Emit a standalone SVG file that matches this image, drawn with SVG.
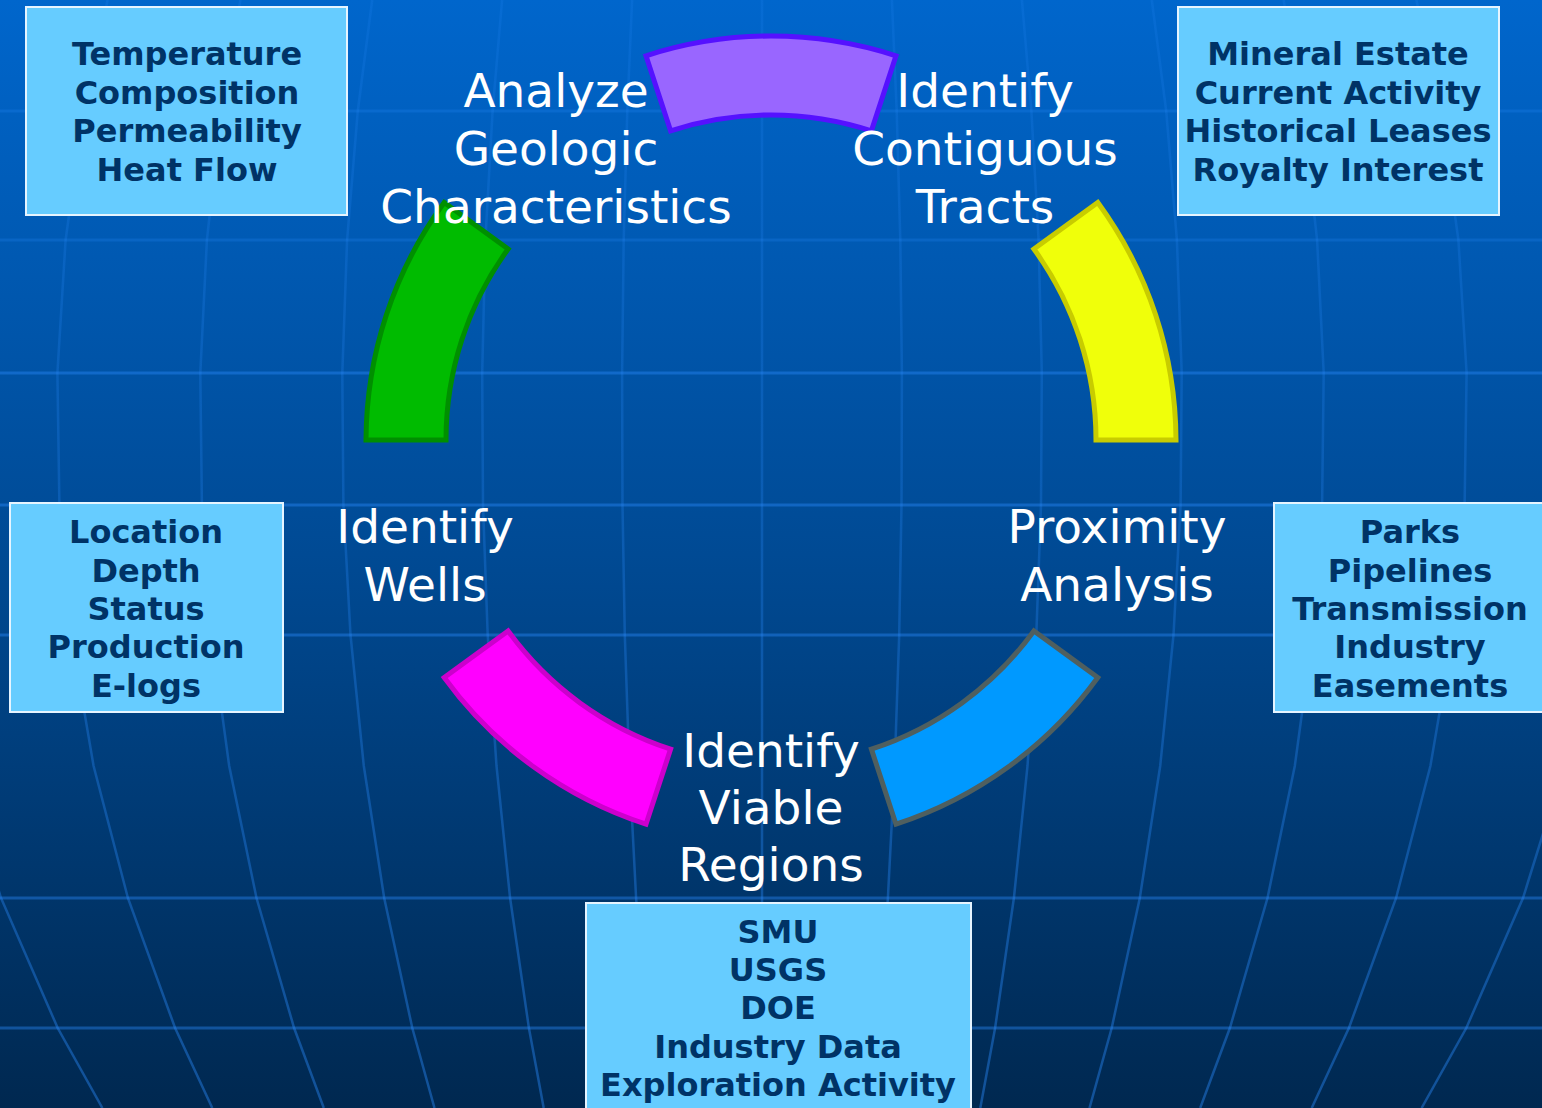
<svg xmlns="http://www.w3.org/2000/svg" width="1542" height="1108" viewBox="0 0 1542 1108">
  <defs>
    <linearGradient id="bg" x1="0" y1="0" x2="0" y2="1">
      <stop offset="0" stop-color="#0066cc"/>
      <stop offset="0.5" stop-color="#004a94"/>
      <stop offset="1" stop-color="#002850"/>
    </linearGradient>
    <linearGradient id="mg" gradientUnits="userSpaceOnUse" x1="0" y1="0" x2="0" y2="1108">
      <stop offset="0" stop-color="#2b8cff" stop-opacity="0.15"/>
      <stop offset="0.45" stop-color="#2b8cff" stop-opacity="0.25"/>
      <stop offset="1" stop-color="#2b8cff" stop-opacity="0.42"/>
    </linearGradient>
    <style>
      .grid { fill: none; }
      .h { stroke: #2b8cff; stroke-opacity: 0.4; stroke-width: 3; }
      .hf { stroke: #2b8cff; stroke-opacity: 0.22; stroke-width: 3; }
      .m { stroke: url(#mg); stroke-width: 2.5; }
      .box { fill: #66ccff; stroke: #e6f4ff; stroke-width: 2; }
      .btxt { font-family: "DejaVu Sans", Verdana, sans-serif; font-weight: bold; font-size: 32px; fill: #003366; text-anchor: middle; }
      .lbl { font-family: "DejaVu Sans", Verdana, sans-serif; font-size: 47px; fill: #ffffff; text-anchor: middle; }
      .seg { stroke-width: 5; stroke-linejoin: miter; }
    </style>
  </defs>

  <rect x="0" y="0" width="1542" height="1108" fill="url(#bg)"/>

  <g id="background-grid">
    <line class="grid hf" x1="0" y1="111" x2="1542" y2="111"/>
    <line class="grid hf" x1="0" y1="240" x2="1542" y2="240"/>
    <line class="grid h" x1="0" y1="373" x2="1542" y2="373"/>
    <line class="grid h" x1="0" y1="505" x2="1542" y2="505"/>
    <line class="grid h" x1="0" y1="635" x2="1542" y2="635"/>
    <line class="grid h" x1="0" y1="898" x2="1542" y2="898"/>
    <line class="grid h" x1="0" y1="1028" x2="1542" y2="1028"/>
    <polyline class="grid m" points="762,0 762,1108"/>
    <polyline class="grid m" points="632.1,0 627.3,111 623.7,240 622.1,373 622.5,505 624.8,635 629.3,766 636.1,898 645.4,1028 652.8,1108"/>
    <polyline class="grid m" points="891.9,0 896.7,111 900.3,240 901.9,373 901.5,505 899.2,635 894.7,766 887.9,898 878.6,1028 871.2,1108"/>
    <polyline class="grid m" points="502.1,0 492.6,111 485.4,240 482.2,373 483,505 487.7,635 496.5,766 510.1,898 528.9,1028 543.7,1108"/>
    <polyline class="grid m" points="1021.9,0 1031.4,111 1038.6,240 1041.8,373 1041,505 1036.3,635 1027.5,766 1013.9,898 995.1,1028 980.3,1108"/>
    <polyline class="grid m" points="372.2,0 357.8,111 347.1,240 342.3,373 343.4,505 350.5,635 363.8,766 384.2,898 412.3,1028 434.5,1108"/>
    <polyline class="grid m" points="1151.8,0 1166.2,111 1176.9,240 1181.7,373 1180.6,505 1173.5,635 1160.2,766 1139.8,898 1111.7,1028 1089.5,1108"/>
    <polyline class="grid m" points="240.4,0 221.2,111 206.9,240 200.3,373 201.9,505 211.4,635 229.2,766 256.5,898 294.1,1028 323.8,1108"/>
    <polyline class="grid m" points="1283.6,0 1302.8,111 1317.1,240 1323.7,373 1322.1,505 1312.6,635 1294.8,766 1267.5,898 1229.9,1028 1200.2,1108"/>
    <polyline class="grid m" points="107.6,0 83.6,111 65.6,240 57.4,373 59.4,505 71.2,635 93.6,766 127.9,898 175.1,1028 212.3,1108"/>
    <polyline class="grid m" points="1416.4,0 1440.4,111 1458.4,240 1466.6,373 1464.6,505 1452.8,635 1430.4,766 1396.1,898 1348.9,1028 1311.7,1108"/>
    <polyline class="grid m" points="-40.1,766 1,898 57.7,1028 102.4,1108"/>
    <polyline class="grid m" points="1564.1,766 1523,898 1466.3,1028 1421.6,1108"/>
  </g>

  <g id="connectors">
    <path class="seg" fill="#9966ff" stroke="#5511ff" d="M646,55.8 A405,405 0 0 1 896,55.8 L871.4,130.9 A325,325 0 0 0 670.6,130.9 Z"/>
    <path class="seg" fill="#f0ff0a" stroke="#c8cc00" d="M1097.8,202.5 A405,405 0 0 1 1176,440 L1096,440 A325,325 0 0 0 1033.9,249 Z"/>
    <path class="seg" fill="#0099ff" stroke="#4f5f5f" d="M1097.8,677.5 A405,405 0 0 1 896,824.2 L871.4,749.1 A325,325 0 0 0 1033.9,631 Z"/>
    <path class="seg" fill="#ff00ff" stroke="#cc00cc" d="M646,824.2 A405,405 0 0 1 444.2,677.5 L508.1,631 A325,325 0 0 0 670.6,749.1 Z"/>
    <path class="seg" fill="#00bb00" stroke="#008f00" d="M366,440 A405,405 0 0 1 444.2,202.5 L508.1,249 A325,325 0 0 0 446,440 Z"/>
  </g>

  <g id="stage-analyze">
    <text class="lbl" x="556" y="107">Analyze</text>
    <text class="lbl" x="556" y="165">Geologic</text>
    <text class="lbl" x="556" y="223">Characteristics</text>
  </g>
  <g id="stage-tracts">
    <text class="lbl" x="985" y="107">Identify</text>
    <text class="lbl" x="985" y="165">Contiguous</text>
    <text class="lbl" x="985" y="223">Tracts</text>
  </g>
  <g id="stage-wells">
    <text class="lbl" x="425" y="543">Identify</text>
    <text class="lbl" x="425" y="601">Wells</text>
  </g>
  <g id="stage-proximity">
    <text class="lbl" x="1117" y="543">Proximity</text>
    <text class="lbl" x="1117" y="601">Analysis</text>
  </g>
  <g id="stage-regions">
    <text class="lbl" x="771" y="767">Identify</text>
    <text class="lbl" x="771" y="824">Viable</text>
    <text class="lbl" x="771" y="881">Regions</text>
  </g>

  <g id="box-geologic">
    <rect class="box" x="26" y="7" width="321" height="208"/>
    <text class="btxt" x="187" y="65">Temperature</text>
    <text class="btxt" x="187" y="104">Composition</text>
    <text class="btxt" x="187" y="142">Permeability</text>
    <text class="btxt" x="187" y="181">Heat Flow</text>
  </g>
  <g id="box-tracts">
    <rect class="box" x="1178" y="7" width="321" height="208"/>
    <text class="btxt" x="1338" y="65">Mineral Estate</text>
    <text class="btxt" x="1338" y="104">Current Activity</text>
    <text class="btxt" x="1338" y="142">Historical Leases</text>
    <text class="btxt" x="1338" y="181">Royalty Interest</text>
  </g>
  <g id="box-wells">
    <rect class="box" x="10" y="503" width="273" height="209"/>
    <text class="btxt" x="146" y="543">Location</text>
    <text class="btxt" x="146" y="582">Depth</text>
    <text class="btxt" x="146" y="620">Status</text>
    <text class="btxt" x="146" y="658">Production</text>
    <text class="btxt" x="146" y="697">E-logs</text>
  </g>
  <g id="box-proximity">
    <rect class="box" x="1274" y="503" width="274" height="209"/>
    <text class="btxt" x="1410" y="543">Parks</text>
    <text class="btxt" x="1410" y="582">Pipelines</text>
    <text class="btxt" x="1410" y="620">Transmission</text>
    <text class="btxt" x="1410" y="658">Industry</text>
    <text class="btxt" x="1410" y="697">Easements</text>
  </g>
  <g id="box-regions">
    <rect class="box" x="586" y="903" width="385" height="212"/>
    <text class="btxt" x="778" y="943">SMU</text>
    <text class="btxt" x="778" y="981">USGS</text>
    <text class="btxt" x="778" y="1019">DOE</text>
    <text class="btxt" x="778" y="1058">Industry Data</text>
    <text class="btxt" x="778" y="1096">Exploration Activity</text>
  </g>
</svg>
